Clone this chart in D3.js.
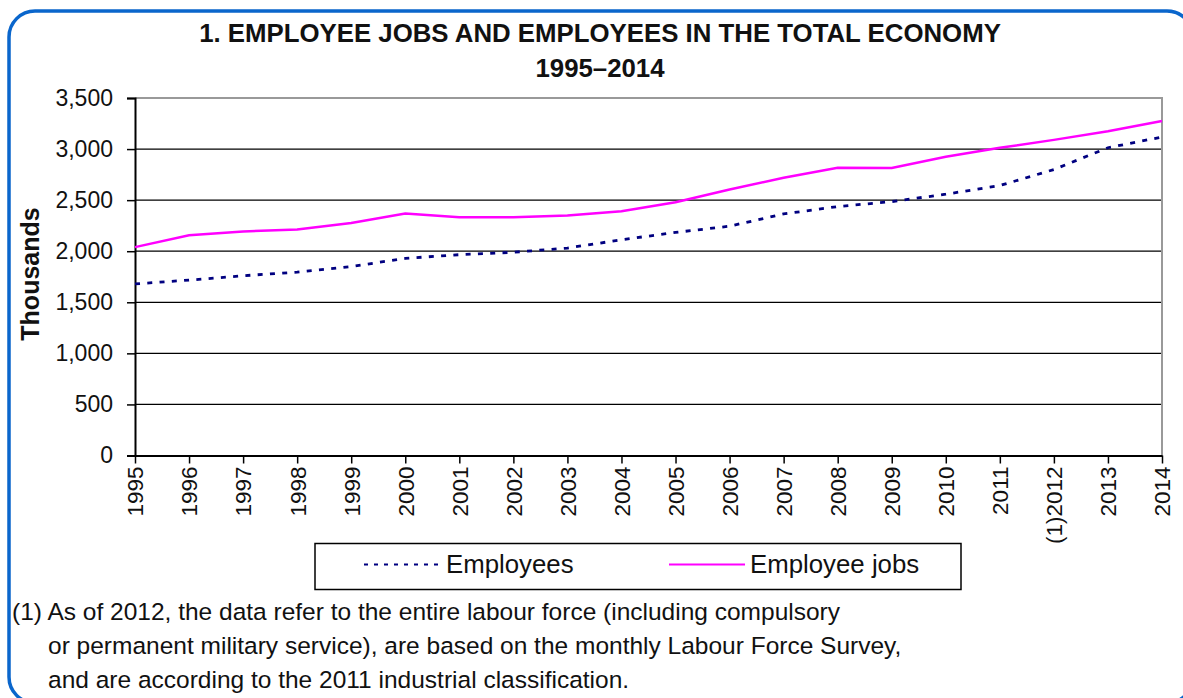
<!DOCTYPE html>
<html>
<head>
<meta charset="utf-8">
<script src="https://cdn.jsdelivr.net/npm/d3@7"></script>
<style>
  html, body { margin: 0; padding: 0; background: #fff; }
  svg { display: block; font-family: Arial, "Liberation Sans", sans-serif; }
</style>
</head>
<body>
<svg id="chart" width="1183" height="698"></svg>
<script>
// Years on the category axis (2012 carries footnote marker (1))
const years = [1995, 1996, 1997, 1998, 1999, 2000, 2001, 2002, 2003, 2004,
               2005, 2006, 2007, 2008, 2009, 2010, 2011, 2012, 2013, 2014];
const yearLabels = ["1995", "1996", "1997", "1998", "1999", "2000", "2001", "2002", "2003", "2004",
                    "2005", "2006", "2007", "2008", "2009", "2010", "2011", "(1)2012", "2013", "2014"];

// Thousands
const employeeJobs = [2040, 2157, 2193, 2213, 2277, 2369, 2333, 2333, 2349, 2391,
                      2479, 2605, 2719, 2817, 2815, 2925, 3012, 3090, 3175, 3275];
const employees = [1680, 1717, 1760, 1795, 1850, 1930, 1966, 1990, 2031, 2112,
                   2184, 2245, 2365, 2437, 2486, 2558, 2643, 2800, 3013, 3118];

const yTicks = [0, 500, 1000, 1500, 2000, 2500, 3000, 3500];

const titleLines = ["1. EMPLOYEE JOBS AND EMPLOYEES IN THE TOTAL ECONOMY", "1995\u20132014"];
const footnoteLines = [
  "(1) As of 2012, the data refer to the entire labour force (including compulsory",
  "or permanent military service), are based on the monthly Labour Force Survey,",
  "and are according to the 2011 industrial classification."
];

const svg = d3.select("#chart");

// Rounded blue frame
svg.append("rect")
  .attr("x", 9).attr("y", 11)
  .attr("width", 1184).attr("height", 692)
  .attr("rx", 26).attr("ry", 26)
  .attr("fill", "none")
  .attr("stroke", "#0a66cc")
  .attr("stroke-width", 3.5);

// Title
svg.append("g").selectAll("text")
  .data(titleLines)
  .join("text")
  .attr("x", 600)
  .attr("y", (d, i) => i === 0 ? 42 : 77)
  .attr("text-anchor", "middle")
  .attr("font-weight", "bold")
  .attr("font-size", 25.8)
  .attr("fill", "#111")
  .text(d => d);

// Plot area bounds
const plotLeft = 135, plotRight = 1162, plotTop = 98, plotBottom = 455.5;
const x = d3.scalePoint().domain(years).range([plotLeft, plotRight]);
const y = d3.scaleLinear().domain([0, 3500]).range([plotBottom, plotTop]);

// Horizontal gridlines
svg.append("g").selectAll("line")
  .data(yTicks.filter(v => v > 0 && v < 3500))
  .join("line")
  .attr("x1", plotLeft).attr("x2", plotRight)
  .attr("y1", d => y(d)).attr("y2", d => y(d))
  .attr("stroke", "#000")
  .attr("stroke-width", 1.3);

// Plot frame (top and right edges)
svg.append("path")
  .attr("d", `M${plotLeft},${y(3500)}H${plotRight}V${plotBottom}`)
  .attr("fill", "none")
  .attr("stroke", "#999")
  .attr("stroke-width", 2);

// Y axis
const yAxis = svg.append("g")
  .attr("transform", `translate(${plotLeft},0)`)
  .call(d3.axisLeft(y).tickValues(yTicks).tickFormat(d3.format(",")).tickSize(8).tickPadding(14));
yAxis.select(".domain").attr("stroke", "#000").attr("stroke-width", 2);
yAxis.selectAll(".tick line").attr("stroke", "#000").attr("stroke-width", 1.5);
yAxis.selectAll(".tick text")
  .attr("font-size", 23)
  .attr("font-family", "Arial, 'Liberation Sans', sans-serif")
  .attr("fill", "#111");

// X axis
const xAxis = svg.append("g")
  .attr("transform", `translate(0,${plotBottom})`)
  .call(d3.axisBottom(x).tickFormat((d, i) => yearLabels[i]).tickSize(8).tickSizeOuter(0));
xAxis.select(".domain").attr("stroke", "#000").attr("stroke-width", 2);
xAxis.selectAll(".tick line").attr("stroke", "#000").attr("stroke-width", 1.5);
xAxis.selectAll(".tick text")
  .attr("font-size", 22.5)
  .attr("font-family", "Arial, 'Liberation Sans', sans-serif")
  .attr("fill", "#111")
  .attr("text-anchor", "end")
  .attr("transform", "rotate(-90)")
  .attr("x", -11)
  .attr("y", 0)
  .attr("dy", "0.35em");

// Y axis title
svg.append("text")
  .attr("transform", "translate(39,274) rotate(-90)")
  .attr("text-anchor", "middle")
  .attr("font-weight", "bold")
  .attr("font-size", 25)
  .attr("fill", "#111")
  .text("Thousands");

// Series lines
const line = d3.line().x((d, i) => x(years[i])).y(d => y(d));

svg.append("path")
  .datum(employeeJobs)
  .attr("d", line)
  .attr("fill", "none")
  .attr("stroke", "#ff00ff")
  .attr("stroke-width", 2.5);

svg.append("path")
  .datum(employees)
  .attr("d", line)
  .attr("fill", "none")
  .attr("stroke", "#000080")
  .attr("stroke-width", 2.8)
  .attr("stroke-dasharray", "5,7.3");

// Legend
const legend = svg.append("g");
legend.append("rect")
  .attr("x", 315).attr("y", 543.5)
  .attr("width", 646).attr("height", 46)
  .attr("fill", "#fff")
  .attr("stroke", "#000")
  .attr("stroke-width", 1.5);

const legendItems = [
  { name: "Employees", color: "#000080", dash: "4,6", x0: 364, x1: 440, tx: 446 },
  { name: "Employee jobs", color: "#ff00ff", dash: null, x0: 669, x1: 745, tx: 750 }
];
legendItems.forEach(it => {
  legend.append("line")
    .attr("x1", it.x0).attr("x2", it.x1)
    .attr("y1", 564.5).attr("y2", 564.5)
    .attr("stroke", it.color)
    .attr("stroke-width", 2)
    .attr("stroke-dasharray", it.dash);
  legend.append("text")
    .attr("x", it.tx).attr("y", 573)
    .attr("font-size", 25.8)
    .attr("fill", "#111")
    .text(it.name);
});

// Footnote
svg.append("g").selectAll("text")
  .data(footnoteLines)
  .join("text")
  .attr("x", (d, i) => i === 0 ? 12 : 48)
  .attr("y", (d, i) => 620 + i * 34)
  .attr("font-size", 24.5)
  .attr("fill", "#111")
  .text(d => d);
</script>
</body>
</html>
